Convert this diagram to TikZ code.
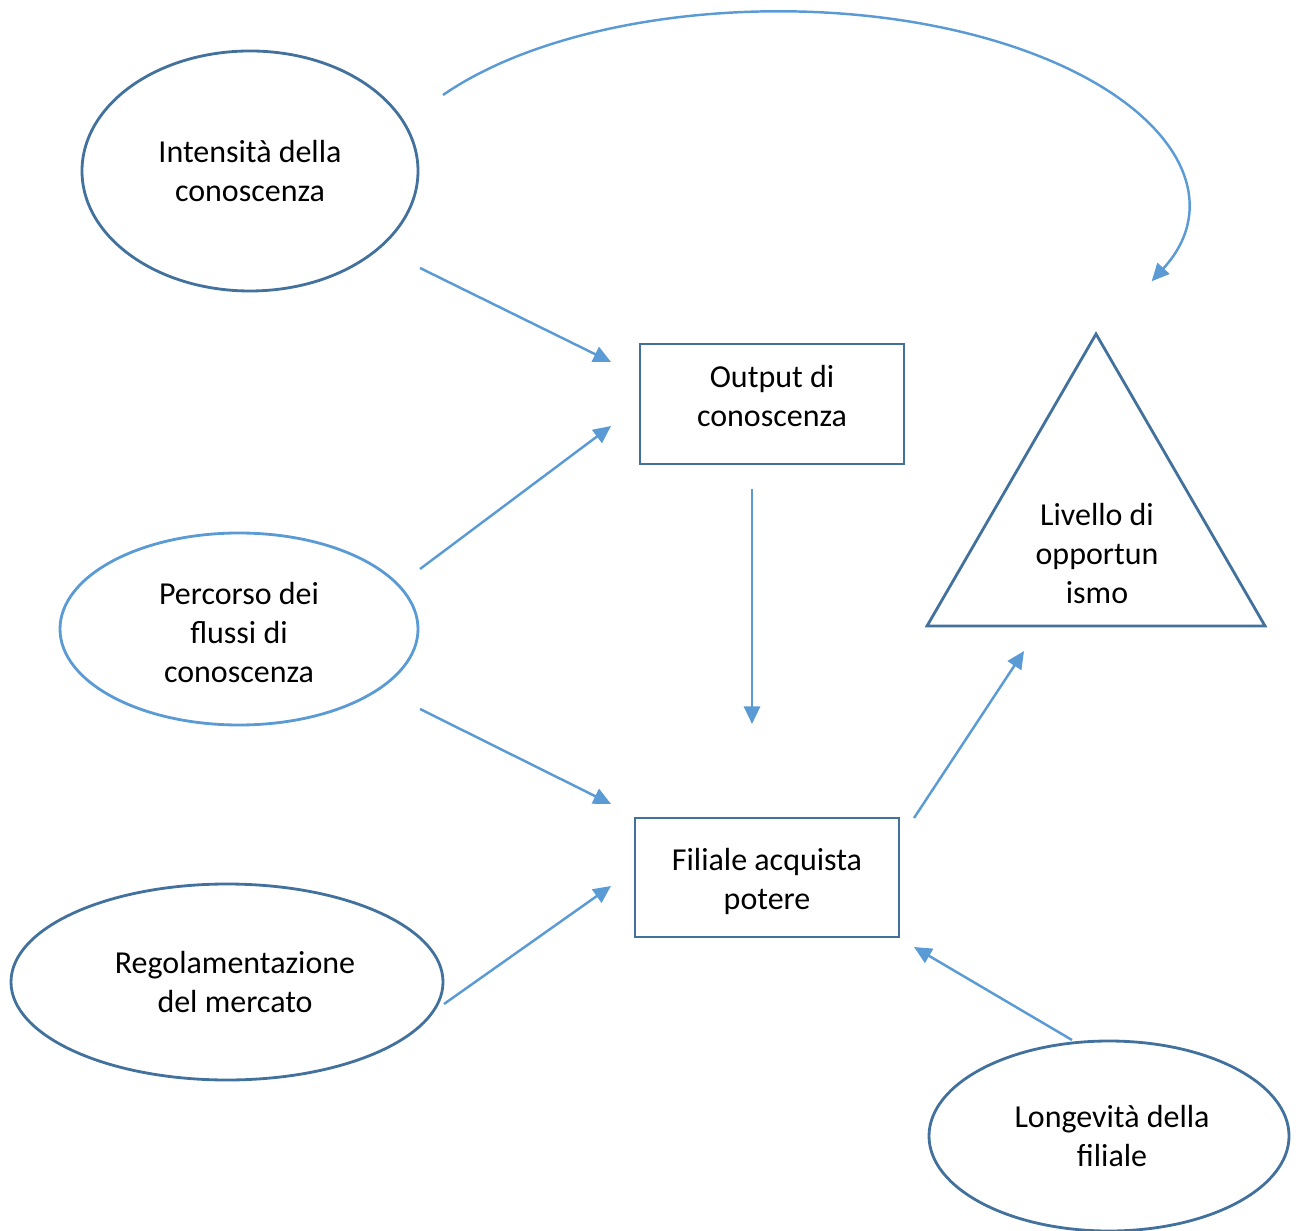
\documentclass[tikz,border=0pt]{standalone}
\usepackage{fontspec}
\setmainfont{Carlito}
\usepackage{xcolor}
\usepackage{tikz}
\usetikzlibrary{shapes.geometric, arrows.meta}

\definecolor{darkedge}{HTML}{41719C}
\definecolor{lightedge}{HTML}{5B9BD5}

\tikzset{
  oval/.style={ellipse, draw=darkedge, line width=0.8pt, inner sep=0pt, align=center},
  box/.style={rectangle, draw=darkedge, line width=0.8pt, inner sep=0pt, align=center},
  inside/.style={align=center, inner sep=0pt},
  link/.style={draw=lightedge, line width=0.7pt, -{Triangle[length=5pt,width=4.6pt]}}
}

\begin{document}
\begin{tikzpicture}[font=\fontsize{9.1}{11.1}\selectfont]
\useasboundingbox (0,0) rectangle (13,-12.31);

% ellipses
\node[oval, minimum width=3.36cm, minimum height=2.40cm] (intens) at (2.50,-1.71) {Intensità della\\conoscenza};
\node[oval, draw=lightedge, minimum width=3.58cm, minimum height=1.92cm,
  label={[inside, yshift=-0.04cm]center:{Percorso dei\\flussi di\\conoscenza}}] (percorso) at (2.39,-6.29) {};
\node[oval, minimum width=4.32cm, minimum height=1.96cm,
  label={[inside, xshift=0.08cm]center:{Regolamentazione\\del mercato}}] (regol) at (2.27,-9.82) {};
\node[oval, minimum width=3.60cm, minimum height=1.90cm,
  label={[inside, xshift=0.03cm]center:{Longevità della\\filiale}}] (longev) at (11.09,-11.36) {};

% boxes
\node[box, minimum width=2.64cm, minimum height=1.20cm,
  label={[inside, yshift=0.08cm]center:{Output di\\conoscenza}}] (output) at (7.72,-4.04) {};
\node[box, minimum width=2.64cm, minimum height=1.19cm,
  label={[inside, yshift=-0.04cm]center:{Filiale acquista\\potere}}] (filiale) at (7.67,-8.775) {};

% triangle
\coordinate (tritop) at (10.96,-3.34);
\coordinate (trileft) at (9.27,-6.26);
\coordinate (triright) at (12.65,-6.26);
\draw[darkedge, line width=0.8pt] (tritop) -- (trileft) -- (triright) -- cycle;
\node[align=center] (livello) at (10.97,-5.54) {Livello di\\opportun\\ismo};

% arrow ends
\coordinate (a1s) at (4.20,-2.68);  \coordinate (a1e) at (6.11,-3.62);
\coordinate (a2s) at (4.20,-5.69);  \coordinate (a2e) at (6.11,-4.26);
\coordinate (a3s) at (4.20,-7.09);  \coordinate (a3e) at (6.11,-8.04);
\coordinate (a4s) at (4.44,-10.04); \coordinate (a4e) at (6.11,-8.86);
\coordinate (a5s) at (7.52,-4.89);  \coordinate (a5e) at (7.52,-7.24);
\coordinate (a6s) at (9.14,-8.18);  \coordinate (a6e) at (10.24,-6.51);
\coordinate (a7s) at (10.72,-10.40); \coordinate (a7e) at (9.14,-9.47);
\coordinate (bows) at (4.43,-0.95);

\draw[link] (a1s) -- (a1e);
\draw[link] (a2s) -- (a2e);
\draw[link] (a3s) -- (a3e);
\draw[link] (a4s) -- (a4e);
\draw[link] (a5s) -- (a5e);
\draw[link] (a6s) -- (a6e);
\draw[link] (a7s) -- (a7e);
\draw[link] (bows) arc[start angle=145.5, end angle=-23.5, x radius=4.07cm, y radius=1.93cm];
\end{tikzpicture}
\end{document}
